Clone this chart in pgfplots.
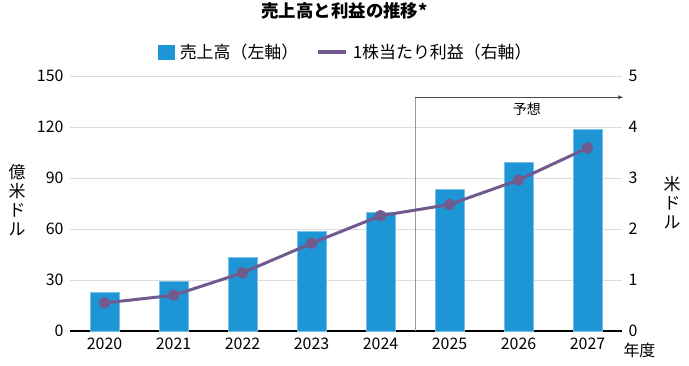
\documentclass[border=0pt]{standalone}
\usepackage{fontspec}
\setmainfont{Noto Sans CJK JP}
\usepackage{pgfplots}
\usetikzlibrary{arrows.meta}
\pgfplotsset{compat=1.18}
\definecolor{barblue}{RGB}{30,150,214}
\definecolor{linepurple}{RGB}{112,90,142}
\definecolor{gridgray}{RGB}{220,220,220}
\begin{document}
\begin{tikzpicture}
\path[use as bounding box] (0,0) rectangle (689bp,366bp);
\begin{axis}[
  at={(70bp,35bp)}, anchor=south west,
  scale only axis, width=552bp, height=255bp,
  xmin=-0.5, xmax=7.5, ymin=0, ymax=150,
  axis x line*=bottom, axis y line*=left,
  x axis line style={black, line width=1.6bp},
  y axis line style={draw=none},
  xtick={0,...,7},
  xticklabels={2020,2021,2022,2023,2024,2025,2026,2027},
  ytick={0,30,60,90,120,150},
  major tick length=0pt,
  ymajorgrids, grid style={gridgray, line width=0.8bp},
  /pgf/number format/assume math mode=true,
  tick label style={font=\fontsize{16}{16}\selectfont},
  xticklabel style={yshift=-3bp},
  yticklabel style={xshift=-3bp},
  clip=false,
]
\addplot[ybar, bar width=0.42, fill=barblue, draw=barblue!60!white, line width=0.6bp]
  coordinates {(0,22.5) (1,29.2) (2,43.4) (3,58.5) (4,69.8) (5,83.4) (6,99.1) (7,118.7)};
\draw[gray!80, line width=0.7bp] (axis cs:4.5,0) -- (axis cs:4.5,137.5);
\draw[black!70, line width=0.7bp, -{Latex[length=5bp,width=4bp]}] (axis cs:4.5,137.5) -- (axis cs:7.52,137.5);
\node[font=\fontsize{14}{14}\selectfont] at (axis cs:6.12,130.5) {予想};
\node[anchor=west, font=\fontsize{16}{16}\selectfont] at (axis cs:7.5,0) [yshift=-19bp, xshift=-2bp] {年度};
\end{axis}
\begin{axis}[
  at={(70bp,35bp)}, anchor=south west,
  scale only axis, width=552bp, height=255bp,
  xmin=-0.5, xmax=7.5, ymin=0, ymax=5,
  axis x line=none, axis y line*=right,
  y axis line style={draw=none},
  ytick={0,1,2,3,4,5},
  major tick length=0pt,
  /pgf/number format/assume math mode=true,
  tick label style={font=\fontsize{16}{16}\selectfont},
  yticklabel style={xshift=3bp},
  legend style={at={(0.5,1.094)}, anchor=center, draw=none, fill=none,
    font=\fontsize{17}{17}\selectfont, legend columns=2,
    /tikz/every odd column/.append style={column sep=3bp},
    /tikz/every even column/.append style={column sep=16bp}},
  legend cell align=left,
  clip=false,
]
\addlegendimage{legend image code/.code={\fill[barblue] (0bp,-7bp) rectangle (16bp,7bp);}}
\addlegendentry{売上高（左軸）}
\addlegendimage{legend image code/.code={\draw[linepurple, line width=3.5bp] (0bp,0bp) -- (28bp,0bp);}}
\addlegendentry{1株当たり利益（右軸）}
\addplot[linepurple, line width=3bp, mark=*, mark size=5.5bp, mark options={fill=linepurple, draw=linepurple, line width=0.5bp}, forget plot]
  coordinates {(0,0.55) (1,0.70) (2,1.14) (3,1.72) (4,2.26) (5,2.48) (6,2.96) (7,3.59)};
\end{axis}
\node[font=\bfseries\fontsize{17.5}{17.5}\selectfont] at (344.5bp,355bp) {売上高と利益の推移*};
\node[align=center, inner sep=0, font=\fontsize{17}{19}\selectfont] at (17bp,166bp) {億\\米\\ド\\ル};
\node[align=center, inner sep=0, font=\fontsize{17}{19}\selectfont] at (672bp,163bp) {米\\ド\\ル};
\end{tikzpicture}
\end{document}
